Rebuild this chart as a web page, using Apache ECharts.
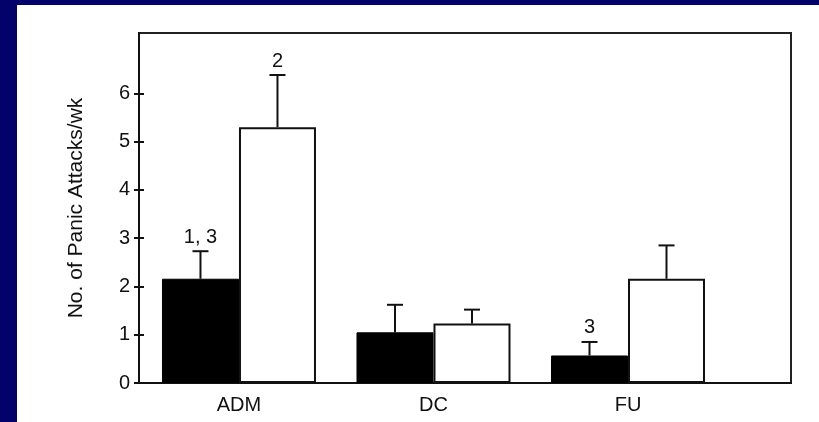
<!DOCTYPE html>
<html>
<head>
<meta charset="utf-8">
<script src="https://cdn.jsdelivr.net/npm/echarts@6/dist/echarts.min.js"></script>
<style>
  html, body { margin: 0; padding: 0; background: #02026a; }
  #main { position: absolute; left: 17px; top: 5px; width: 802px; height: 417px; background: #fff; }
</style>
</head>
<body>
<div id="main"></div>
<script>
// groups on the x axis
var categories = ['ADM', 'DC', 'FU'];
var catPos = [1, 2, 3];
// mean panic attacks per week, black (left) and white (right) bars
var blackVals = [2.16, 1.05, 0.57];
var whiteVals = [5.30, 1.23, 2.16];
// upper end of the error bars
var blackErr = [2.73, 1.62, 0.85];
var whiteErr = [6.38, 1.52, 2.85];
// significance marks above the error bars
var blackNotes = ['1, 3', '', '3'];
var whiteNotes = ['2', '', ''];
var yTicks = [0, 1, 2, 3, 4, 5, 6];

var chart = echarts.init(document.getElementById('main'));
var BW = 77;
var font = 'Liberation Sans, Arial, sans-serif';

function pairs(vals) {
  return vals.map(function (v, i) { return [catPos[i], v]; });
}
function errData(vals, errs, notes) {
  return vals.map(function (v, i) { return [catPos[i], v, errs[i], notes[i]]; });
}
function errRender(offset) {
  return function (params, api) {
    var base = api.coord([api.value(0), api.value(1)]);
    var top = api.coord([api.value(0), api.value(2)]);
    var x = base[0] + offset;
    var style = { stroke: '#111', lineWidth: 2 };
    var kids = [
      { type: 'line', shape: { x1: x, y1: base[1], x2: x, y2: top[1] }, style: style },
      { type: 'line', shape: { x1: x - 8, y1: top[1], x2: x + 8, y2: top[1] }, style: style }
    ];
    var note = api.value(3);
    if (note) {
      kids.push({
        type: 'text',
        style: { text: note, x: x, y: top[1] - 14, align: 'center', verticalAlign: 'middle',
                 font: '20px ' + font, fill: '#111' }
      });
    }
    return { type: 'group', children: kids };
  };
}

chart.setOption({
  animation: false,
  grid: { left: 122, top: 28, right: 28, bottom: 39, show: true, borderColor: '#222', borderWidth: 2, backgroundColor: '#fff' },
  xAxis: {
    type: 'value', min: 0.486, max: 3.838,
    splitLine: { show: false },
    axisLine: { show: true, lineStyle: { color: '#111', width: 2 } },
    axisTick: { show: false },
    axisLabel: {
      customValues: catPos, margin: 12, color: '#111', fontSize: 20, fontFamily: font,
      formatter: function (v) { return categories[Math.round(v) - 1] || ''; }
    }
  },
  yAxis: [{
    type: 'value', min: 0, max: 7.25,
    name: 'No. of Panic Attacks/wk', nameLocation: 'middle', nameGap: 52, nameRotate: 90,
    nameTextStyle: { color: '#111', fontSize: 21, fontFamily: font },
    splitLine: { show: false },
    axisLine: { show: true, lineStyle: { color: '#111', width: 2 } },
    axisTick: { show: true, customValues: yTicks, length: 5, lineStyle: { color: '#111', width: 2 } },
    axisLabel: { customValues: yTicks, margin: 9, color: '#111', fontSize: 20, fontFamily: font }
  }, {
    type: 'value', min: 0, max: 7.25, position: 'left',
    splitLine: { show: false }, axisLine: { show: false },
    axisLabel: { show: false },
    axisTick: { show: true, inside: true, customValues: yTicks, length: 5, lineStyle: { color: '#111', width: 2 } }
  }],
  series: [
    { type: 'bar', data: pairs(blackVals), barWidth: BW, barGap: '0%',
      itemStyle: { color: '#000', borderColor: '#000', borderWidth: 1 } },
    { type: 'bar', data: pairs(whiteVals), barWidth: BW, barGap: '0%',
      itemStyle: { color: '#fff', borderColor: '#111', borderWidth: 2 } },
    { type: 'custom', data: errData(blackVals, blackErr, blackNotes), renderItem: errRender(-BW / 2), z: 5 },
    { type: 'custom', data: errData(whiteVals, whiteErr, whiteNotes), renderItem: errRender(BW / 2), z: 5 }
  ]
});
</script>
</body>
</html>
